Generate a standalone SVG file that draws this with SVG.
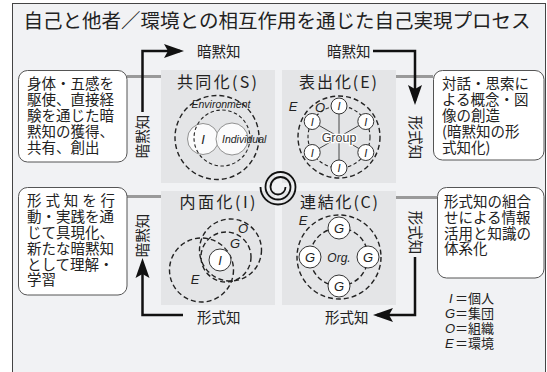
<svg xmlns="http://www.w3.org/2000/svg" width="547" height="372" viewBox="0 0 547 372">
<style>
.jp{font-family:"Noto Sans CJK JP","Noto Sans",sans-serif;fill:#222}
.lat{font-family:"Liberation Sans",Arial,sans-serif;font-style:italic;fill:#222}
.qt{font-family:"Noto Sans CJK JP","Noto Sans",sans-serif;fill:#222;font-size:16px;text-anchor:middle}
.sq{fill:#e4e5e7}
.box{fill:#fff;stroke:#555;stroke-width:1}
.gcon{stroke:#9a9a9a;stroke-width:3;fill:none}
.arr{stroke:#111;stroke-width:2.5;fill:none;marker-end:url(#ah)}
.dashO{fill:none;stroke:#222;stroke-width:1.4;stroke-dasharray:5 3}
.dashI{fill:none;stroke:#222;stroke-width:1.1;stroke-dasharray:3.5 2.5}
.wc{fill:#fff;stroke:#333;stroke-width:1}
.wcl{fill:#fff;fill-opacity:.85;stroke:#777;stroke-width:0.8}
.spoke{stroke:#333;stroke-width:0.9}
</style>
<defs>
<marker id="ah" markerUnits="userSpaceOnUse" markerWidth="24" markerHeight="16" refX="16" refY="8" orient="auto">
<path d="M0,1 L20,8 L0,15 L4,8 Z" fill="#111"/>
</marker>
</defs>
<rect x="0" y="0" width="547" height="372" fill="#fff"/>
<rect x="12.5" y="3.5" width="533" height="380" fill="#f1f2f4" stroke="#444" stroke-width="1"/>
<text class="jp" x="277" y="28" font-size="19.5" text-anchor="middle">自己と他者／環境との相互作用を通じた自己実現プロセス</text>

<g id="connectors">
<line class="gcon" x1="127" y1="76.5" x2="172" y2="76.5"/>
<line class="gcon" x1="383" y1="76.5" x2="433" y2="76.5"/>
<line class="gcon" x1="127" y1="196.5" x2="172" y2="196.5"/>
<line class="gcon" x1="383" y1="197.5" x2="437" y2="197.5"/>
<path class="arr" d="M142.5,112 V51 H180"/>
<path class="arr" d="M373,51 H415 V101"/>
<path class="arr" d="M415,257 V315 H377"/>
<path class="arr" d="M183,315 H142.5 V262"/>
<text class="jp" x="197" y="56.5" font-size="14.5">暗黙知</text>
<text class="jp" x="327" y="56.5" font-size="14.5">暗黙知</text>
<text class="jp" x="197" y="323" font-size="14.5">形式知</text>
<text class="jp" x="325" y="323" font-size="14.5">形式知</text>
<text class="jp" font-size="14.5" text-anchor="middle" transform="translate(142.5,136.5) rotate(-90)" y="5.3">暗黙知</text>
<text class="jp" font-size="14.5" text-anchor="middle" transform="translate(142.5,235.5) rotate(-90)" y="5.3">暗黙知</text>
<text class="jp" font-size="14.5" text-anchor="middle" transform="translate(415,137.5) rotate(90)" y="5.3">形式知</text>
<text class="jp" font-size="14.5" text-anchor="middle" transform="translate(415,232.5) rotate(90)" y="5.3">形式知</text>
</g>

<g id="box-tl">
<rect class="box" x="18.5" y="70.5" width="108.5" height="91.5" rx="9"/>
<text class="jp" font-size="14.5"><tspan x="27" y="88.5">身体・五感を</tspan><tspan x="27" y="104.5">駆使、直接経</tspan><tspan x="27" y="120.5">験を通じた暗</tspan><tspan x="27" y="136.5">黙知の獲得、</tspan><tspan x="27" y="152.5">共有、創出</tspan></text>
</g>
<g id="box-tr">
<rect class="box" x="433.5" y="70.5" width="110.5" height="89.5" rx="9"/>
<text class="jp" font-size="14.5"><tspan x="442" y="89">対話・思索に</tspan><tspan x="442" y="105">よる概念・図</tspan><tspan x="442" y="121">像の創造</tspan><tspan x="442" y="137">(暗黙知の形</tspan><tspan x="442" y="153">式知化)</tspan></text>
</g>
<g id="box-bl">
<rect class="box" x="18.5" y="187.5" width="108.5" height="107.5" rx="9"/>
<text class="jp" font-size="14.5"><tspan x="27" y="206" textLength="88" lengthAdjust="spacing">形式知を行</tspan><tspan x="27" y="222">動・実践を通</tspan><tspan x="27" y="238">じて具現化、</tspan><tspan x="27" y="254">新たな暗黙知</tspan><tspan x="27" y="269.5">として理解・</tspan><tspan x="27" y="285">学習</tspan></text>
</g>
<g id="box-br">
<rect class="box" x="437.5" y="187.5" width="106.5" height="90.5" rx="9"/>
<text class="jp" font-size="14.5"><tspan x="444" y="207">形式知の組合</tspan><tspan x="444" y="223">せによる情報</tspan><tspan x="444" y="238.5">活用と知識の</tspan><tspan x="444" y="254">体系化</tspan></text>
</g>

<g id="q-socialization">
<rect class="sq" x="161" y="70" width="114" height="113"/>
<text class="qt" x="217" y="87.5" textLength="80" lengthAdjust="spacing">共同化(S)</text>
<circle class="wcl" cx="203" cy="139" r="15.5"/>
<circle class="wcl" cx="232" cy="139" r="16"/>
<circle class="dashI" cx="222" cy="138" r="28"/>
<circle class="dashO" cx="217" cy="137.5" r="42"/>
<text class="lat" x="221" y="108" font-size="10.5" text-anchor="middle">Environment</text>
<text class="lat" x="203" y="144" font-size="13" text-anchor="middle">I</text>
<text class="lat" x="222" y="142.5" font-size="10.5">Individual</text>
</g>

<g id="q-externalization">
<rect class="sq" x="282" y="70" width="114" height="113"/>
<text class="qt" x="338" y="87.5" textLength="78" lengthAdjust="spacing">表出化(E)</text>
<circle class="dashO" cx="339" cy="137" r="41"/>
<circle class="dashI" cx="339" cy="137" r="31"/>
<g class="spoke">
<line x1="339" y1="137" x2="339" y2="106"/>
<line x1="339" y1="137" x2="365.8" y2="121.5"/>
<line x1="339" y1="137" x2="365.8" y2="152.5"/>
<line x1="339" y1="137" x2="339" y2="168"/>
<line x1="339" y1="137" x2="312.2" y2="152.5"/>
<line x1="339" y1="137" x2="312.2" y2="121.5"/>
</g>
<g font-size="11" class="lat" text-anchor="middle">
<circle class="wc" cx="339" cy="106" r="8"/><text x="339" y="110">I</text>
<circle class="wc" cx="365.8" cy="121.5" r="8"/><text x="365.8" y="125.5">I</text>
<circle class="wc" cx="365.8" cy="152.5" r="8"/><text x="365.8" y="156.5">I</text>
<circle class="wc" cx="339" cy="168" r="8"/><text x="339" y="172">I</text>
<circle class="wc" cx="312.2" cy="152.5" r="8"/><text x="312.2" y="156.5">I</text>
<circle class="wc" cx="312.2" cy="121.5" r="8"/><text x="312.2" y="125.5">I</text>
</g>
<text x="339" y="141.5" font-size="12.5" text-anchor="middle" font-family="Liberation Sans,Arial,sans-serif" fill="#444" stroke="#fff" stroke-width="2.5" paint-order="stroke">Group</text>
<text class="lat" x="293" y="111" font-size="13" text-anchor="middle">E</text>
<text class="lat" x="320" y="112" font-size="13" text-anchor="middle">O</text>
</g>

<g id="q-internalization">
<rect class="sq" x="161" y="191" width="114" height="114"/>
<text class="qt" x="217.5" y="207.5" textLength="76" lengthAdjust="spacing">内面化(I)</text>
<circle class="dashO" cx="201.5" cy="270" r="32"/>
<circle class="dashO" cx="230.5" cy="250" r="31"/>
<circle class="dashO" cx="226" cy="257" r="25"/>
<circle class="wc" cx="220" cy="260" r="11" stroke="#555"/>
<text class="lat" x="220" y="265" font-size="13" text-anchor="middle">I</text>
<text class="lat" x="243" y="233" font-size="13" text-anchor="middle">O</text>
<text class="lat" x="235" y="248" font-size="13" text-anchor="middle">G</text>
<text class="lat" x="195" y="284" font-size="13" text-anchor="middle">E</text>
</g>

<g id="q-combination">
<rect class="sq" x="282" y="191" width="114" height="114"/>
<text class="qt" x="339" y="207.5" textLength="78" lengthAdjust="spacing">連結化(C)</text>
<circle class="dashO" cx="339" cy="257" r="42"/>
<circle class="dashO" cx="339" cy="257" r="29"/>
<g font-size="13" class="lat" text-anchor="middle">
<circle class="wc" cx="339" cy="228" r="11"/><text x="339" y="232.5">G</text>
<circle class="wc" cx="310" cy="257" r="11"/><text x="310" y="261.5">G</text>
<circle class="wc" cx="368" cy="257" r="11"/><text x="368" y="261.5">G</text>
<circle class="wc" cx="339" cy="286" r="11"/><text x="339" y="290.5">G</text>
</g>
<text class="lat" x="339" y="261.5" font-size="12" text-anchor="middle">Org.</text>
<text class="lat" x="303" y="225" font-size="13" text-anchor="middle">E</text>
</g>

<g id="spiral">
<path d="M285.5,187 A7.5,7.5 0 0 1 270.5,187 A10,10 0 0 1 290.5,187 A12.5,12.5 0 0 1 265.5,187 A15,15 0 0 1 295.5,187 A17.5,17.5 0 0 1 260.5,187" fill="none" stroke="#111" stroke-width="1.8"/>
</g>

<g id="legend" font-size="13">
<text class="jp" y="303"><tspan class="lat" x="449">I</tspan><tspan x="455">＝個人</tspan></text>
<text class="jp" y="318"><tspan class="lat" x="445">G</tspan><tspan x="455">＝集団</tspan></text>
<text class="jp" y="333"><tspan class="lat" x="445">O</tspan><tspan x="455">＝組織</tspan></text>
<text class="jp" y="348"><tspan class="lat" x="445">E</tspan><tspan x="455">＝環境</tspan></text>
</g>
</svg>
